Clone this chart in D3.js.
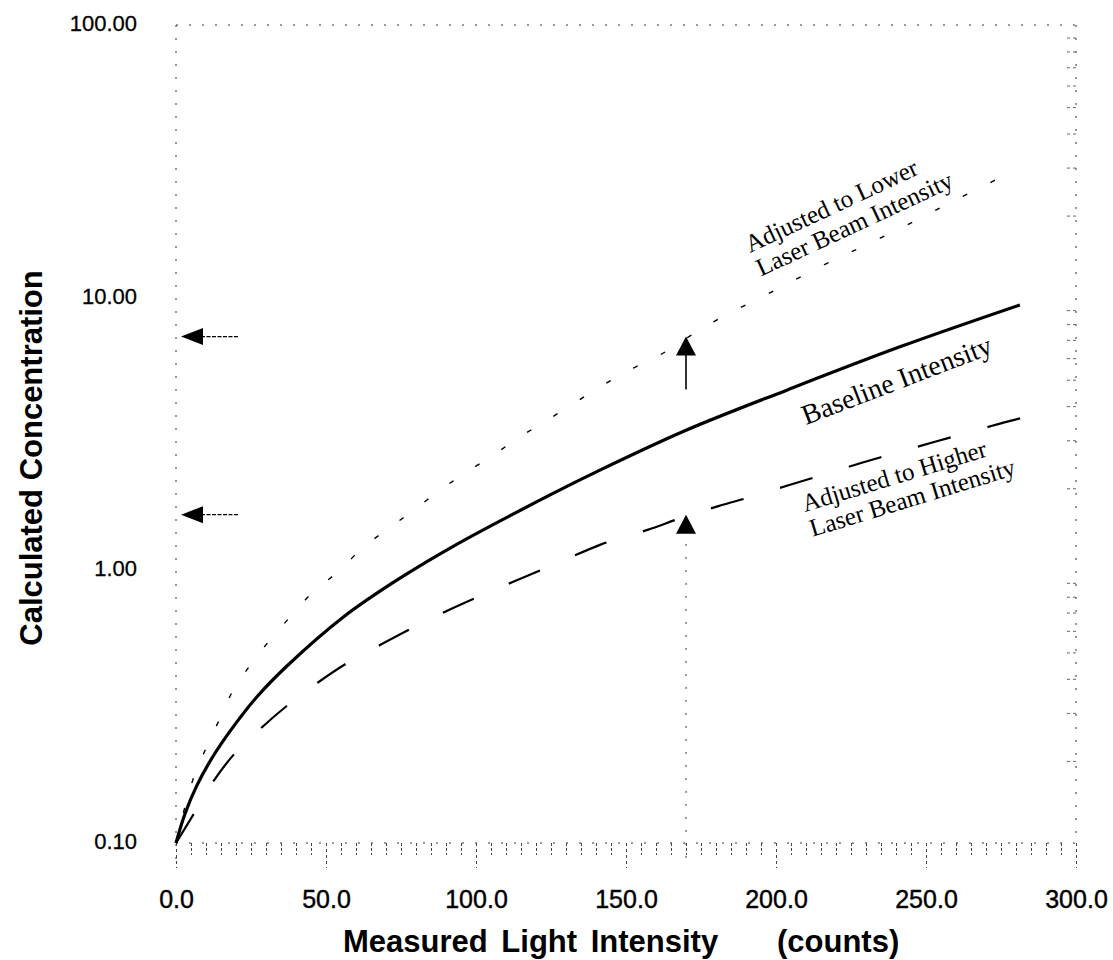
<!DOCTYPE html>
<html>
<head>
<meta charset="utf-8">
<script src="https://cdn.jsdelivr.net/npm/d3@7/dist/d3.min.js"></script>
<style>
  html, body { margin: 0; padding: 0; background: #fff; }
  svg { display: block; }
</style>
</head>
<body>
<svg id="chart" width="1113" height="960"></svg>
<script>
// Calculated concentration vs. measured light intensity, three calibrations
const baselineX = [0, 3, 6.9, 12, 19, 27, 36.9, 55.7, 73.6, 92.4, 124.7, 141.3, 170.2, 203.6, 241.3, 281.3];
const baselineY = [0.1, 0.128, 0.162, 0.205, 0.266, 0.344, 0.445, 0.673, 0.92, 1.225, 1.89, 2.33, 3.27, 4.58, 6.6, 9.4];

const lowerX = [0, 3, 6, 10.2, 14.7, 19.1, 25.2, 31.3, 38.6, 45.8, 54.1, 61.9, 70.2, 78.6, 88, 96.3,
                105.8, 114.7, 124.7, 142.4, 152.4, 161.3, 171, 180.2, 200, 219, 229, 240.2, 250.2,
                259.7, 269.1, 278.6];
const lowerY = [0.1, 0.136, 0.175, 0.225, 0.287, 0.364, 0.456, 0.555, 0.685, 0.835, 0.99, 1.2, 1.41,
                1.64, 1.97, 2.27, 2.65, 3.09, 3.61, 4.78, 5.52, 6.16, 7.2, 8.28, 10.7, 13.7, 15.4,
                17.7, 20.1, 22.8, 25.6, 29.2];

const higherX = [0, 5, 12.4, 19.1, 28.2, 36.9, 47.2, 56.9, 68, 78.6, 89.7, 100.2, 112.4, 123, 141.3,
                 145.8, 157.4, 168.6, 180.8, 192.4, 204.7, 216.3, 228.6, 240.2, 252.4, 264.1, 275.8, 285.8];
const higherY = [0.1, 0.123, 0.168, 0.21, 0.263, 0.318, 0.387, 0.456, 0.532, 0.613, 0.705, 0.795, 0.908,
                 1.017, 1.24, 1.29, 1.41, 1.56, 1.72, 1.87, 2.06, 2.25, 2.48, 2.7, 2.95, 3.2, 3.48, 3.71];

// Read-off at a single intensity: baseline shifts up (lower beam) or down (higher beam)
const readX = 170;
const readLower = 7.2;
const readHigher = 1.6;
const shaftStart = 4.6;

const xTicks = [0, 50, 100, 150, 200, 250, 300];
const yTicks = [0.1, 1, 10, 100];

const svg = d3.select("#chart");
const x = d3.scaleLinear().domain([0, 300]).range([176, 1076]);
const y = d3.scaleLog().domain([0.1, 100]).range([843, 25]);

const sans = "Liberation Sans, Arial, sans-serif";
const serif = "Liberation Serif, Times New Roman, serif";

const dotted = sel => sel.attr("stroke", "#333").attr("stroke-width", 1)
  .attr("stroke-dasharray", "2,11").attr("fill", "none");

// frame: top and right edges, left axis line, bottom axis line
svg.append("line").attr("x1", x(0)).attr("x2", x(300)).attr("y1", y(100)).attr("y2", y(100)).call(dotted);
svg.append("line").attr("x1", x(300)).attr("x2", x(300)).attr("y1", y(100)).attr("y2", y(0.1)).call(dotted);
svg.append("line").attr("x1", x(0)).attr("x2", x(0)).attr("y1", y(100)).attr("y2", y(0.1) + 25).call(dotted);
svg.append("line").attr("x1", x(0)).attr("x2", x(300)).attr("y1", y(0.1)).attr("y2", y(0.1)).call(dotted);

// bottom axis: minor ticks every 5, major every 50
const minorX = d3.range(5, 300, 5).filter(v => v % 50 !== 0);
const gMinorX = svg.append("g").attr("transform", `translate(0,${y(0.1)})`)
  .call(d3.axisBottom(x).tickValues(minorX).tickSize(12).tickFormat(""));
gMinorX.select(".domain").remove();
gMinorX.selectAll(".tick line").attr("stroke", "#444").attr("stroke-dasharray", "3,2");

const gX = svg.append("g").attr("transform", `translate(0,${y(0.1)})`)
  .call(d3.axisBottom(x).tickValues(xTicks).tickSize(25).tickPadding(22).tickFormat(d3.format(".1f")));
gX.select(".domain").remove();
gX.selectAll(".tick line").attr("stroke", "#444").attr("stroke-dasharray", "3,3");
gX.selectAll(".tick text").attr("font-family", sans)
  .attr("font-size", 25).attr("fill", "#000").attr("stroke", "#000").attr("stroke-width", 0.4)
  .attr("dy", "0.72em");

// left axis labels
const gY = svg.append("g").attr("transform", `translate(${x(0)},0)`)
  .call(d3.axisLeft(y).tickValues(yTicks).tickSize(0).tickPadding(39).tickFormat(d3.format(".2f")));
gY.select(".domain").remove();
gY.selectAll(".tick text").attr("font-family", sans).attr("dy", "0.25em")
  .attr("font-size", 22).attr("fill", "#000").attr("stroke", "#000").attr("stroke-width", 0.3);

// right edge minor log ticks pointing inward
const minorY = [];
[0.1, 1, 10].forEach(d => { for (let k = 2; k <= 9; k++) minorY.push(d * k); });
const gR = svg.append("g").attr("transform", `translate(${x(300)},0)`)
  .call(d3.axisLeft(y).tickValues(minorY).tickSize(12).tickFormat(""));
gR.select(".domain").remove();
gR.selectAll(".tick line").attr("stroke", "#666").attr("stroke-dasharray", "3,3");

// vertical read-off guide below the higher-beam curve
svg.append("line").attr("x1", x(readX)).attr("x2", x(readX))
  .attr("y1", y(1.25)).attr("y2", y(0.1) + 25).call(dotted);

// curves
const line = d3.line().x(d => x(d[0])).y(d => y(d[1])).curve(d3.curveCatmullRom.alpha(0.5));
const pts = (xs, ys) => xs.map((v, i) => [v, ys[i]]);

svg.append("path").datum(pts(lowerX, lowerY)).attr("d", line)
  .attr("fill", "none").attr("stroke", "#000").attr("stroke-width", 1.4)
  .attr("stroke-dasharray", "5,26");
svg.append("path").datum(pts(higherX, higherY)).attr("d", line)
  .attr("fill", "none").attr("stroke", "#000").attr("stroke-width", 2.2)
  .attr("stroke-dasharray", "34,38");
svg.append("path").datum(pts(baselineX, baselineY)).attr("d", line)
  .attr("fill", "none").attr("stroke", "#000").attr("stroke-width", 3.2);

// arrows
const ax = x(readX);
svg.append("line").attr("x1", ax).attr("x2", ax).attr("y1", y(shaftStart)).attr("y2", y(readLower) + 16)
  .attr("stroke", "#000").attr("stroke-width", 1.6);
const upTri = (tipY) => `M${ax},${tipY} L${ax - 10},${tipY + 19} L${ax + 10},${tipY + 19} Z`;
svg.append("path").attr("d", upTri(y(readLower))).attr("fill", "#000");
svg.append("path").attr("d", upTri(y(readHigher))).attr("fill", "#000");

[readLower, readHigher].forEach(v => {
  const ty = y(v), tx = x(0) + 5;
  svg.append("line").attr("x1", tx + 20).attr("x2", x(21)).attr("y1", ty).attr("y2", ty)
    .attr("stroke", "#000").attr("stroke-width", 1.2).attr("stroke-dasharray", "4,1.5");
  svg.append("path").attr("d", `M${tx},${ty} L${tx + 22},${ty - 8.5} L${tx + 22},${ty + 8.5} Z`).attr("fill", "#000");
});

// curve annotations
function label(lines, px, py, angle, size) {
  const t = svg.append("text").attr("transform", `translate(${px},${py}) rotate(${angle})`)
    .attr("font-family", serif).attr("font-size", size).attr("fill", "#000");
  lines.forEach((s, i) => t.append("tspan").attr("x", 0).attr("y", i * 26).text(s));
}
label(["Adjusted to Lower", "Laser Beam Intensity"], 750, 253, -25, 25);
label(["Baseline Intensity"], 806, 425, -21, 28);
label(["Adjusted to Higher", "Laser Beam Intensity"], 805, 512, -17, 25);

// axis titles
const xt = svg.append("text").attr("y", 952)
  .attr("font-family", sans).attr("font-weight", "bold")
  .attr("font-size", 31).attr("fill", "#000").attr("word-spacing", 5);
xt.append("tspan").attr("x", 343).text("Measured Light Intensity");
xt.append("tspan").attr("x", 777).text("(counts)");

svg.append("text").attr("transform", "translate(42,458) rotate(-90)").attr("text-anchor", "middle")
  .attr("font-family", sans).attr("font-weight", "bold")
  .attr("font-size", 31).attr("fill", "#000").text("Calculated Concentration");
</script>
</body>
</html>
